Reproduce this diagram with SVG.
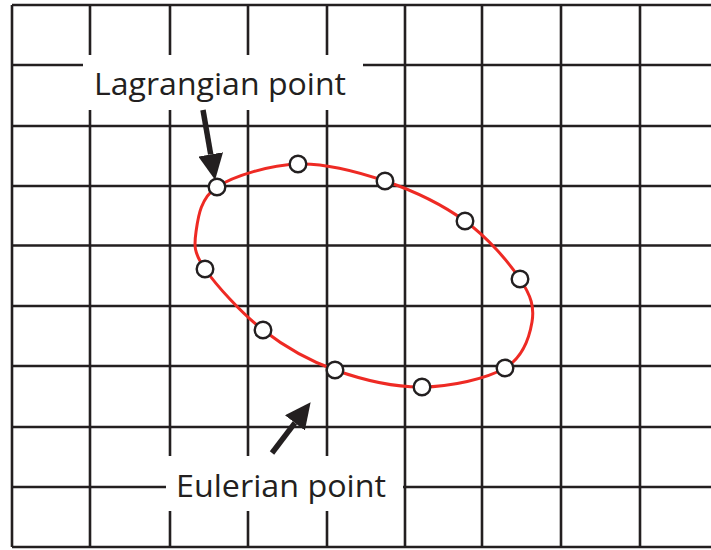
<svg xmlns="http://www.w3.org/2000/svg" width="711" height="550" viewBox="0 0 711 550">
<style>
.grid{stroke:#231f20;stroke-width:2.6;fill:none}
.gap{fill:#ffffff;stroke:none}
.curve{stroke:#ee2a24;stroke-width:3;fill:none}
.pt{fill:#ffffff;stroke:#231f20;stroke-width:2.4}
.arrow{stroke:#231f20;stroke-width:5.5;fill:none;marker-end:url(#head)}
.label{font-family:"Open Sans","Liberation Sans",sans-serif;font-size:31px;fill:#231f20}
</style>
<defs>
<marker id="head" viewBox="0 0 26 25" refX="0" refY="12.5" markerWidth="26" markerHeight="25" markerUnits="userSpaceOnUse" orient="auto">
<path d="M0,0 L26,12.5 L0,25 z" fill="#231f20"/>
</marker>
</defs>
<rect width="711" height="550" fill="#ffffff"/>
<g id="grid" class="grid">
<path d="M12,5 V547 M90,5 V547 M170,5 V547 M248,5 V547 M327,5 V547 M405,5 V547 M482,5 V547 M561,5 V547 M640,5 V547"/>
<path d="M12,5 H711 M12,65 H711 M12,126 H711 M12,186 H711 M12,245.5 H711 M12,306 H711 M12,366 H711 M12,427 H711 M12,487 H711 M12,547 H711"/>
</g>
<g id="label-lagrangian">
<rect class="gap" x="83" y="55" width="280" height="55"/>
<text class="label" x="94" y="95" textLength="252" lengthAdjust="spacingAndGlyphs">Lagrangian point</text>
</g>
<g id="label-eulerian">
<rect class="gap" x="166" y="456" width="237" height="55"/>
<text class="label" x="176" y="497" textLength="210" lengthAdjust="spacingAndGlyphs">Eulerian point</text>
</g>
<g id="path-line">
<path class="curve" d="M217,187 C234,175.7 270,165 298,164 C326,163 357.2,171.5 385,181 C412.8,190.5 442.5,204.7 465,221 C487.5,237.3 508.8,262.2 520,279 C531.2,295.8 534.5,307.2 532,322 C529.5,336.8 523.3,357.2 505,368 C486.7,378.8 450.3,386.7 422,387 C393.7,387.3 361.5,379.5 335,370 C308.5,360.5 284.7,346.8 263,330 C241.3,313.2 216.2,285.3 205,269 C193.8,252.7 194,245.7 196,232 C198,218.3 200,198.3 217,187 Z"/>
</g>
<g id="points">
<circle class="pt" cx="217" cy="187" r="8.3"/>
<circle class="pt" cx="298" cy="164" r="8.3"/>
<circle class="pt" cx="385" cy="181" r="8.3"/>
<circle class="pt" cx="465" cy="221" r="8.3"/>
<circle class="pt" cx="520" cy="279" r="8.3"/>
<circle class="pt" cx="505" cy="368" r="8.3"/>
<circle class="pt" cx="422" cy="387" r="8.3"/>
<circle class="pt" cx="335" cy="370" r="8.3"/>
<circle class="pt" cx="263" cy="330" r="8.3"/>
<circle class="pt" cx="205" cy="269" r="8.3"/>
</g>
<g id="connectors">
<line class="arrow" x1="203" y1="110" x2="210.7" y2="154.4"/>
<line class="arrow" x1="272" y1="453" x2="294.9" y2="422.9"/>
</g>
</svg>
